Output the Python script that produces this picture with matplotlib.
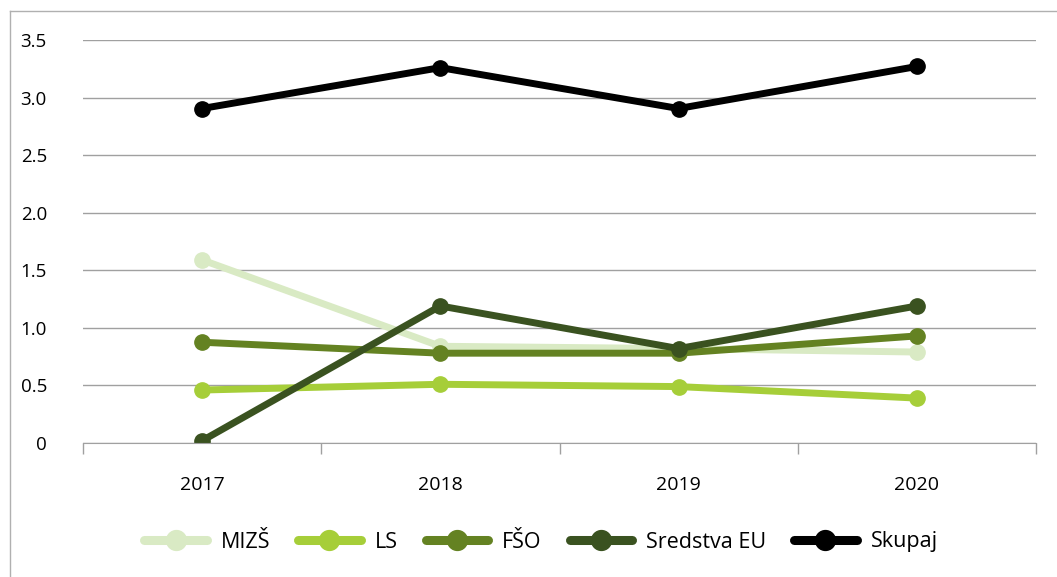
import numpy as np
import matplotlib.pyplot as plt
from matplotlib.ticker import FuncFormatter, FixedLocator

plt.rcParams['font.family'] = ['Open Sans', 'DejaVu Sans']

years = ['2017', '2018', '2019', '2020']
mizs = [1.59, 0.84, 0.82, 0.79]
ls = [0.46, 0.51, 0.49, 0.39]
fso = [0.875, 0.78, 0.78, 0.93]
eu = [0.02, 1.19, 0.82, 1.19]
skupaj = [2.905, 3.26, 2.905, 3.27]

series = [('MIZŠ', mizs, '#d9eac4'),
          ('LS', ls, '#a6ce39'),
          ('FŠO', fso, '#648222'),
          ('Sredstva EU', eu, '#3a5220'),
          ('Skupaj', skupaj, '#000000')]

fig = plt.figure(figsize=(10.57, 5.77), dpi=100)
ax = fig.add_axes([83/1057, 1 - 443/577, (1036-83)/1057, (443-40)/577])

x = np.arange(len(years))
for name, vals, col in series:
    ax.plot(x, vals, color=col, lw=5, marker='o', ms=11, label=name,
            solid_capstyle='round')

ax.set_xlim(-0.5, 3.5)
ax.set_ylim(0, 3.5)
ax.set_yticks(np.arange(0, 3.51, 0.5))
ax.yaxis.set_major_formatter(FuncFormatter(lambda v, p: '0' if v == 0 else f'{v:.1f}'))
ax.grid(axis='y', color='#a0a0a0', lw=1)
ax.set_axisbelow(True)
for s in ['top', 'right', 'left']:
    ax.spines[s].set_visible(False)
ax.spines['bottom'].set_color('#a0a0a0')
ax.tick_params(axis='y', length=0, pad=26, labelsize=13.5)

ax.set_xticks(x)
ax.set_xticklabels(years)
ax.tick_params(axis='x', length=0, pad=24, labelsize=14)
ax.xaxis.set_minor_locator(FixedLocator(np.arange(-0.5, 3.6, 1)))
ax.tick_params(axis='x', which='minor', length=8, color='#a0a0a0', width=1)

# outer frame lines (top and left) like the original export
fig.add_artist(plt.Line2D([10/1057, 1], [1 - 11/577, 1 - 11/577], color='#b0b0b0', lw=1))
fig.add_artist(plt.Line2D([10/1057, 10/1057], [0, 1 - 11/577], color='#b0b0b0', lw=1))

leg = ax.legend(loc='center', bbox_to_anchor=(541/1057, 1 - 542/577), bbox_transform=fig.transFigure,
                ncol=5, frameon=False, fontsize=15.5, handlelength=2.9, columnspacing=1.3,
                handletextpad=0.65, markerscale=1.3)
for h in leg.legend_handles:
    h.set_linewidth(6.5)

fig.savefig('out.png', dpi=100)
